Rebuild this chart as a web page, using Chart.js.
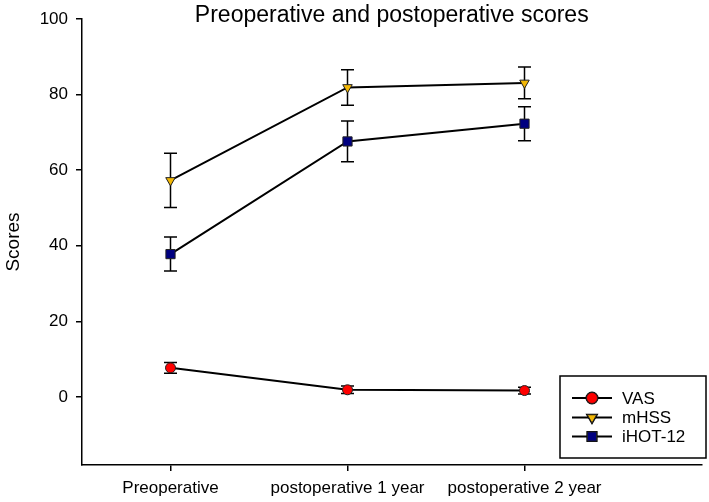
<!DOCTYPE html>
<html>
<head>
<meta charset="utf-8">
<script src="https://cdn.jsdelivr.net/npm/chart.js@4.4.0/dist/chart.umd.min.js"></script>
<style>
html,body{margin:0;padding:0;background:#fff;}
#wrap{width:709px;height:502px;position:relative;}
</style>
</head>
<body>
<div id="wrap"><canvas id="c" width="709" height="502"></canvas></div>
<script>
const categories = ["Preoperative", "postoperative 1 year", "postoperative 2 year"];
const vasMean = [7.7, 1.9, 1.7];
const vasErr = [1.4, 1.0, 0.9];
const mhssMean = [57.3, 81.9, 83.1];
const mhssErr = [7.2, 4.7, 4.2];
const ihotMean = [37.8, 67.6, 72.3];
const ihotErr = [4.5, 5.4, 4.5];
const yTicks = [0, 20, 40, 60, 80, 100];
const xTicks = [0, 1, 2];
const seriesNames = ["VAS", "mHSS", "iHOT-12"];

const FONT = "'Liberation Sans', Arial, sans-serif";

function pts(arr){ return arr.map((v,i)=>({x:i,y:v})); }

const errs = [vasErr, mhssErr, ihotErr];

const errorBars = {
  id:'errorBars',
  beforeDatasetsDraw(chart){
    const ctx = chart.ctx, xs = chart.scales.x, ys = chart.scales.y;
    ctx.save();
    ctx.strokeStyle = '#000';
    ctx.lineWidth = 1.5;
    chart.data.datasets.forEach((ds, di)=>{
      ds.data.forEach((p, i)=>{
        const e = errs[di][i];
        const x = xs.getPixelForValue(p.x);
        const yt = ys.getPixelForValue(p.y + e);
        const yb = ys.getPixelForValue(p.y - e);
        ctx.beginPath();
        ctx.moveTo(x, yt); ctx.lineTo(x, yb);
        ctx.moveTo(x-6.5, yt); ctx.lineTo(x+6.5, yt);
        ctx.moveTo(x-6.5, yb); ctx.lineTo(x+6.5, yb);
        ctx.stroke();
      });
    });
    ctx.restore();
  }
};

const customDecor = {
  id:'customDecor',
  afterDraw(chart){
    const ctx = chart.ctx;
    ctx.save();
    // title
    ctx.fillStyle = '#000';
    ctx.font = "23px " + FONT;
    ctx.textAlign = 'center';
    ctx.textBaseline = 'alphabetic';
    const ca = chart.chartArea;
    ctx.fillText("Preoperative and postoperative scores", (ca.left+ca.right)/2, 22);
    // legend box
    const bx = 560, by = 376, bw = 146, bh = 82;
    ctx.strokeStyle = '#000';
    ctx.lineWidth = 1.5;
    ctx.fillStyle = '#fff';
    ctx.fillRect(bx, by, bw, bh);
    ctx.strokeRect(bx, by, bw, bh);
    const rowsY = [398, 417.5, 436.5];
    chart.data.datasets.forEach((ds, i)=>{
      const y = rowsY[i];
      ctx.strokeStyle = '#000';
      ctx.lineWidth = 2;
      ctx.beginPath(); ctx.moveTo(572, y); ctx.lineTo(612, y); ctx.stroke();
      Chart.helpers.drawPoint(ctx, {
        pointStyle: ds.pointStyle, rotation: ds.pointRotation || 0,
        radius: i===0 ? 5.5 : ds.pointRadius, borderWidth: 1
      }, 592, y);
      ctx.fillStyle = ds.pointBackgroundColor;
      ctx.strokeStyle = '#222';
      ctx.lineWidth = 1;
      ctx.fill(); ctx.stroke();
      ctx.fillStyle = '#000';
      ctx.font = "17px " + FONT;
      ctx.textAlign = 'left';
      ctx.textBaseline = 'middle';
      ctx.fillText(seriesNames[i], 622, y + 1);
    });
    ctx.restore();
  }
};

const commonDs = {
  borderColor:'#000', borderWidth:2, pointBorderColor:'#222', pointBorderWidth:1,
  showLine:true, tension:0
};

new Chart(document.getElementById('c'), {
  type:'scatter',
  data:{
    datasets:[
      Object.assign({}, commonDs, {label:seriesNames[0], data:pts(vasMean), pointStyle:'circle', pointRadius:5, pointBackgroundColor:'#ff0000'}),
      Object.assign({}, commonDs, {label:seriesNames[1], data:pts(mhssMean), pointStyle:'triangle', pointRotation:180, pointRadius:5.5, pointBackgroundColor:'#f2b705'}),
      Object.assign({}, commonDs, {label:seriesNames[2], data:pts(ihotMean), pointStyle:'rect', pointRadius:6.5, pointBackgroundColor:'#000080'})
    ]
  },
  options:{
    responsive:false, animation:false, devicePixelRatio:1,
    layout:{padding:{top:19, right:6, left:2, bottom:0}},
    plugins:{legend:{display:false}, title:{display:false}, tooltip:{enabled:false}},
    scales:{
      x:{
        type:'linear', min:-0.5, max:3,
        afterBuildTicks(s){ s.ticks = xTicks.map(v=>({value:v})); },
        afterFit(s){ s.height = 37; },
        grid:{display:true, drawOnChartArea:false, drawTicks:true, tickLength:6, color:'#000', lineWidth:1.5},
        border:{display:true, color:'#000', width:1.5},
        ticks:{color:'#000', font:{family:FONT, size:17}, padding:7, maxRotation:0, autoSkip:false,
          callback:(v)=>categories[v] !== undefined ? categories[v] : ''}
      },
      y:{
        type:'linear', min:-18, max:100,
        afterBuildTicks(s){ s.ticks = yTicks.map(v=>({value:v})); },
        afterFit(s){ s.width = 80; },
        grid:{display:true, drawOnChartArea:false, drawTicks:true, tickLength:6, color:'#000', lineWidth:1.5},
        border:{display:true, color:'#000', width:1.5},
        ticks:{color:'#000', font:{family:FONT, size:17}, padding:8},
        title:{display:true, text:'Scores', color:'#000', font:{family:FONT, size:19}, padding:{top:0,bottom:0}}
      }
    }
  },
  plugins:[errorBars, customDecor]
});
</script>
</body>
</html>
